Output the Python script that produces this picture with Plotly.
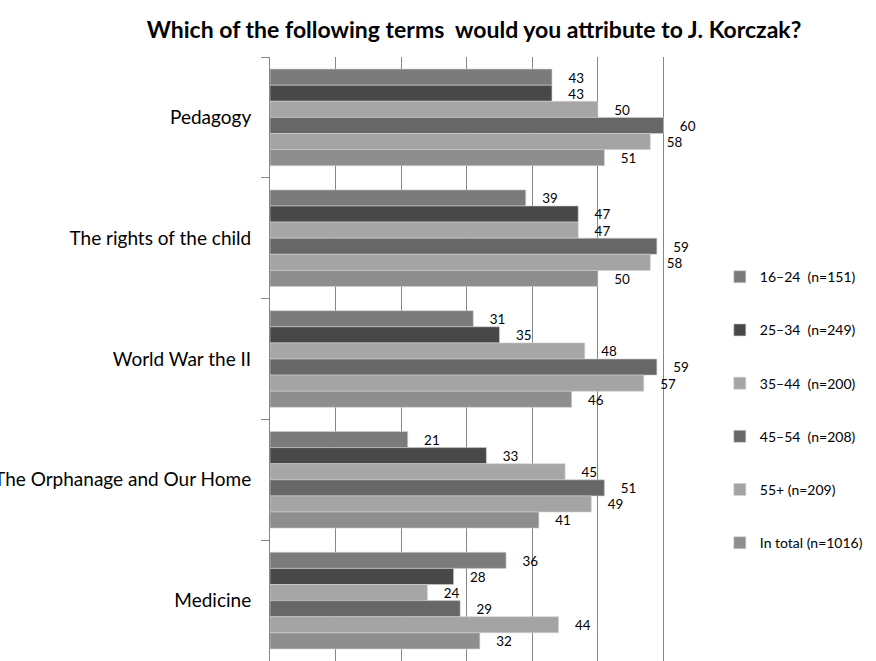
import plotly.graph_objects as go

categories = ["Pedagogy", "The rights of the child", "World War the II",
              "The Orphanage and Our Home", "Medicine"]
series_names = ["16\u201324  (n=151)", "25\u201334  (n=249)", "35\u201344  (n=200)",
                "45\u201354  (n=208)", "55+ (n=209)", "In total (n=1016)"]
v_16_24 = [43, 39, 31, 21, 36]
v_25_34 = [43, 47, 35, 33, 28]
v_35_44 = [50, 47, 48, 45, 24]
v_45_54 = [60, 59, 59, 51, 29]
v_55p = [58, 58, 57, 49, 44]
v_total = [51, 50, 46, 41, 32]
series_values = [v_16_24, v_25_34, v_35_44, v_45_54, v_55p, v_total]
colors = ["#7b7b7b", "#484848", "#a6a6a6", "#676767", "#a4a4a4", "#8e8e8e"]

FONT = "Lato"
fig = go.Figure()
for i, (name, vals, col) in enumerate(zip(series_names, series_values, colors)):
    fig.add_trace(go.Bar(
        y=categories, x=vals, name=name, orientation="h",
        marker=dict(color=col, line=dict(color="#d0d0d0", width=0.6)),
        text=[f"\u2002\u2002{v}" for v in vals], textposition="outside",
        textfont=dict(family=FONT, size=15, color="#000000"),
        cliponaxis=False, legendgroup=str(i),
    ))

fig.update_layout(
    width=876, height=661,
    margin=dict(l=270, r=147, t=57, b=0, autoexpand=False),
    paper_bgcolor="white", plot_bgcolor="white",
    barmode="group", bargap=0.2, bargroupgap=0,
    title=dict(text="<b>Which of the following terms  would you attribute to J. Korczak?</b>",
               x=474 / 876, xref="container", xanchor="center",
               y=1 - 30 / 661, yref="container", yanchor="middle",
               font=dict(family=FONT, size=23, color="#000000")),
    font=dict(family=FONT, size=14, color="#000000"),
    legend=dict(x=0.98, y=0.662, xanchor="left", yanchor="top",
                traceorder="grouped", tracegroupgap=32,
                bgcolor="rgba(0,0,0,0)",
                font=dict(family=FONT, size=14, color="#000000"),
                itemwidth=30),
    showlegend=True,
)
fig.update_xaxes(range=[0, 70], dtick=10, showticklabels=False,
                 showgrid=True, gridcolor="#868686", gridwidth=1,
                 zeroline=False, showline=False, fixedrange=True,
                 automargin=False)
fig.update_yaxes(autorange="reversed", showline=True, linecolor="#868686",
                 linewidth=1, ticks="outside", tickson="boundaries",
                 ticklen=8, tickcolor="#868686", ticklabelstandoff=14,
                 tickfont=dict(family=FONT, size=19, color="#000000"),
                 showgrid=False, automargin=False, fixedrange=True)

fig.write_html("out.html", config={"displayModeBar": False},
               post_script="document.body.style.margin='0';document.body.style.overflow='hidden';")
